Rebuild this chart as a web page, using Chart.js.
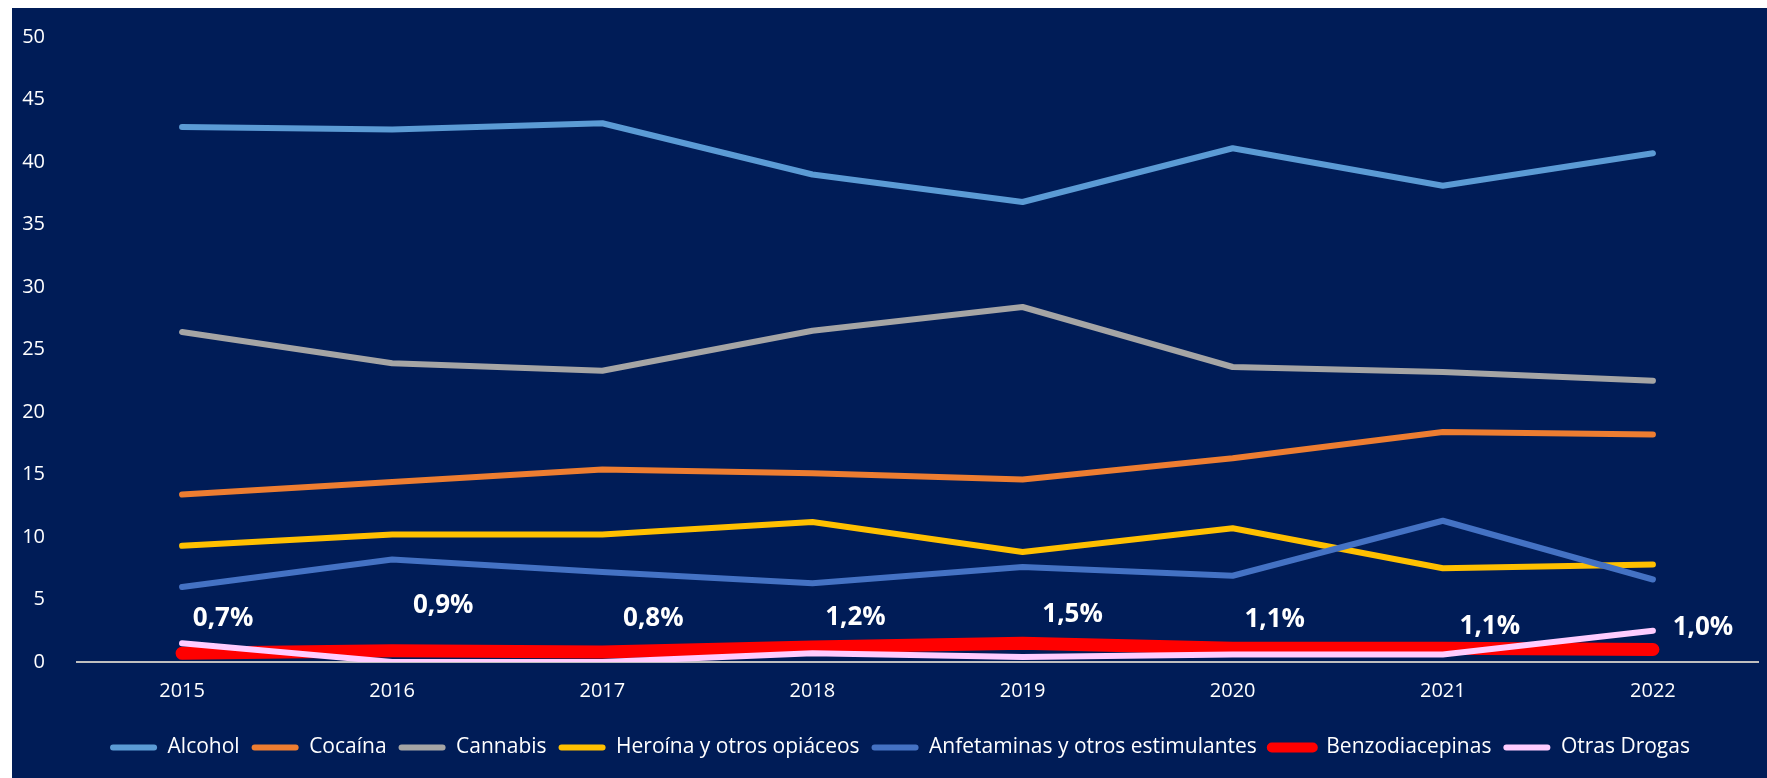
<!DOCTYPE html>
<html lang="es">

<head>
    <meta charset="UTF-8" />
    <meta name="viewport" content="width=device-width, initial-scale=1.0" />
    <title>Drogas</title>
    <style>
        body { margin: 0; background: #ffffff; }
        #wrap { position: absolute; left: 12px; top: 8px; width: 1755px; height: 770px; background: #001c57; }
    </style>
</head>

<body>
    <script src="https://cdn.jsdelivr.net/npm/chart.js"></script>

    <div id="wrap">
        <canvas id="chart" aria-label="Drogas 2015-2022" role="img"></canvas>
    </div>
    <script>
        "use strict";
        const years = ["2015", "2016", "2017", "2018", "2019", "2020", "2021", "2022"];
        const alcohol = [42.8, 42.6, 43.1, 39.0, 36.8, 41.1, 38.1, 40.7];
        const cocaina = [13.4, 14.4, 15.4, 15.1, 14.6, 16.3, 18.4, 18.2];
        const cannabis = [26.4, 23.9, 23.3, 26.5, 28.4, 23.6, 23.2, 22.5];
        const heroina = [9.3, 10.2, 10.2, 11.2, 8.8, 10.7, 7.5, 7.8];
        const anfetaminas = [6.0, 8.2, 7.2, 6.3, 7.6, 6.9, 11.3, 6.6];
        const benzo = [0.7, 0.9, 0.8, 1.2, 1.5, 1.1, 1.1, 1.0];
        const otras = [1.5, 0.0, 0.0, 0.7, 0.4, 0.6, 0.6, 2.5];
        const benzoLabels = ["0,7%", "0,9%", "0,8%", "1,2%", "1,5%", "1,1%", "1,1%", "1,0%"];

        // hand placement of the % labels (px from the red point)
        const labelDx = [41, 51, 51, 43, 50, 42, 47, 50];
        const labelDy = [-35, -45, -33, -29, -29, -29, -22, -22];

        const font = "'Open Sans', 'Noto Sans', sans-serif";

        const pctLabels = {
            id: "pctLabels",
            afterLayout(chart) {
                // legend sits a bit right of centre in the original
                chart.legend.left += 30;
            },
            afterDatasetsDraw(chart) {
                const meta = chart.getDatasetMeta(5);
                const ctx = chart.ctx;
                ctx.save();
                ctx.fillStyle = "#ffffff";
                ctx.font = "bold 26px " + font;
                ctx.textAlign = "center";
                ctx.textBaseline = "middle";
                meta.data.forEach((pt, i) => {
                    ctx.fillText(benzoLabels[i], pt.x + labelDx[i], pt.y + labelDy[i]);
                });
                ctx.restore();
            }
        };

        function line(label, data, color, width, idx) {
            return {
                label: label,
                data: data,
                borderColor: color,
                backgroundColor: color,
                borderWidth: width,
                order: -idx,
            };
        }

        const ctx = document.getElementById("chart").getContext("2d");
        const myChart = new Chart(ctx, {
            type: "line",
            data: {
                labels: years,
                datasets: [
                    line("Alcohol", alcohol, "#5b9bd5", 6, 0),
                    line("Cocaína", cocaina, "#ed7d31", 6, 1),
                    line("Cannabis", cannabis, "#a5a5a5", 6, 2),
                    line("Heroína y otros opiáceos", heroina, "#ffc000", 6, 3),
                    line("Anfetaminas y otros estimulantes", anfetaminas, "#4472c4", 6, 4),
                    line("Benzodiacepinas", benzo, "#ff0000", 13, 5),
                    line("Otras Drogas", otras, "#ffccff", 6, 6),
                ],
            },
            plugins: [pctLabels],
            options: {
                responsive: true,
                maintainAspectRatio: false,
                animation: false,
                layout: {
                    padding: { left: 0, right: 9, top: 29, bottom: 10 }
                },
                elements: {
                    point: { radius: 0, hoverRadius: 0 },
                    line: { tension: 0, borderCapStyle: "round", borderJoinStyle: "round" },
                },
                plugins: {
                    tooltip: { enabled: false },
                    legend: {
                        position: "bottom",
                        labels: {
                            color: "#ffffff",
                            font: { family: font, size: 21 },
                            boxWidth: 47,
                            boxHeight: 6,
                            padding: 12,
                            useBorderRadius: true,
                            borderRadius: 3,
                            sort: (a, b) => a.datasetIndex - b.datasetIndex,
                            generateLabels: function (chart) {
                                const items = Chart.defaults.plugins.legend.labels.generateLabels(chart);
                                items.forEach((it) => {
                                    it.lineWidth = it.datasetIndex === 5 ? 4 : 0;
                                });
                                return items;
                            },
                        },
                    },
                },
                scales: {
                    x: {
                        offset: true,
                        grid: { display: false },
                        border: { color: "#bfbfbf", width: 2 },
                        ticks: {
                            color: "#ffffff",
                            font: { family: font, size: 20 },
                            padding: 9,
                        },
                        afterFit: function (scale) {
                            scale.height += 13;
                        },
                    },
                    y: {
                        min: 0,
                        max: 50,
                        grid: { display: false },
                        border: { display: false },
                        ticks: {
                            stepSize: 5,
                            color: "#ffffff",
                            font: { family: font, size: 20 },
                            padding: 24,
                        },
                        afterFit: function (scale) {
                            scale.width = 65;
                            scale.paddingTop = 0;
                        },
                    },
                },
            },
        });
    </script>
</body>

</html>
